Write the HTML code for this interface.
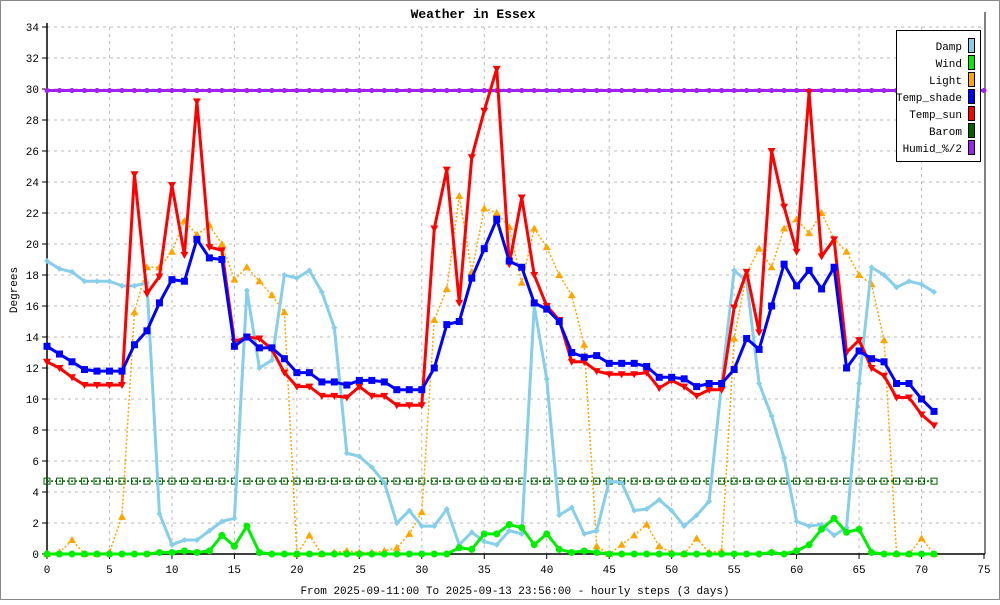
<!DOCTYPE html>
<html><head><meta charset="utf-8"><style>
body{margin:0;background:#fff}
svg text{font-family:"Liberation Mono",monospace;font-size:11px}
</style></head><body>
<svg id="chart" width="1000" height="600" xmlns="http://www.w3.org/2000/svg">
<rect x="0.5" y="0.5" width="999" height="599" fill="#fff" stroke="#888"/>
<text x="473" y="18" text-anchor="middle" style="font-size:13px;font-weight:bold">Weather in Essex</text>
<g id="grid"></g><g id="axes"></g><g id="series"></g>
<text x="17" y="290" text-anchor="middle" transform="rotate(-90 17 290)">Degrees</text>
<text x="515" y="594" text-anchor="middle">From 2025-09-11:00 To 2025-09-13 23:56:00 - hourly steps (3 days)</text>
<g id="legend"></g>
</svg>
<script>
const xTicks=[0,5,10,15,20,25,30,35,40,45,50,55,60,65,70,75];
const yTicks=[0,2,4,6,8,10,12,14,16,18,20,22,24,26,28,30,32,34];
const damp=[18.9,18.4,18.2,17.6,17.6,17.6,17.3,17.3,17.5,2.6,0.6,0.9,0.9,1.5,2.1,2.3,17.0,12.0,12.5,18.0,17.8,18.3,16.9,14.6,6.5,6.3,5.6,4.6,2.0,2.8,1.8,1.8,2.9,0.6,1.4,0.8,0.6,1.5,1.3,16.0,11.3,2.5,3.0,1.3,1.5,4.7,4.6,2.8,2.9,3.5,2.8,1.8,2.5,3.4,11.0,18.3,17.6,11.0,8.9,6.2,2.1,1.8,1.9,1.2,1.7,11.0,18.5,18.0,17.2,17.6,17.4,16.9];
const wind=[0,0,0,0,0,0,0,0,0,0.1,0.1,0.2,0.1,0.2,1.2,0.5,1.8,0.1,0,0,0,0,0,0,0,0,0,0,0,0,0,0,0,0.4,0.3,1.3,1.3,1.9,1.7,0.6,1.3,0.3,0.1,0.2,0.1,0,0,0,0,0,0,0,0,0,0,0,0,0,0.1,0,0.2,0.6,1.6,2.3,1.4,1.6,0.1,0,0,0,0,0];
const light=[0,0.1,0.9,0,0,0.1,2.4,15.6,18.5,18.5,19.5,21.5,20.6,21.2,20.0,17.7,18.5,17.6,16.7,15.6,0,1.2,0,0.1,0.2,0.1,0.1,0.2,0.4,1.3,2.7,15.1,17.1,23.1,18.2,22.3,22.0,21.1,17.5,21.0,19.8,18.0,16.7,13.5,0.5,0,0.6,1.2,1.9,0.5,0.1,0,1.0,0.1,0.2,13.9,18.1,19.7,18.5,21.0,21.6,20.7,22.0,20.3,19.5,18.0,17.4,13.8,0,0,1.0,0];
const tempShade=[13.4,12.9,12.4,11.9,11.8,11.8,11.8,13.5,14.4,16.2,17.7,17.6,20.3,19.1,19.0,13.4,14.0,13.3,13.3,12.6,11.7,11.7,11.1,11.1,10.9,11.2,11.2,11.1,10.6,10.6,10.6,12.0,14.8,15.0,17.8,19.7,21.6,18.9,18.5,16.2,15.8,15.0,13.0,12.7,12.8,12.3,12.3,12.3,12.1,11.4,11.4,11.3,10.8,11.0,11.0,11.9,13.9,13.2,16.0,18.7,17.3,18.3,17.1,18.5,12.0,13.1,12.6,12.4,11.0,11.0,10.0,9.2];
const tempSun=[12.4,12.0,11.4,10.9,10.9,10.9,10.9,24.5,16.8,17.9,23.8,19.3,29.2,19.8,19.6,13.7,14.0,13.9,13.2,11.7,10.8,10.8,10.2,10.2,10.1,10.8,10.2,10.2,9.6,9.6,9.6,21.0,24.8,16.2,25.6,28.6,31.3,18.7,23.0,18.0,16.0,15.1,12.4,12.4,11.8,11.6,11.6,11.6,11.7,10.7,11.2,10.8,10.2,10.6,10.6,15.9,18.2,14.3,26.0,22.4,19.5,29.8,19.2,20.3,13.0,13.8,12.0,11.5,10.1,10.1,9.0,8.3];
const barom=Array(72).fill(4.7);
const humid=Array(76).fill(29.9);
const NS="http://www.w3.org/2000/svg";
const X0=47,X1=984,Y0=554,Y1=27;
const sx=v=>X0+(v-0)/75*(X1-X0);
const sy=v=>Y0-(v/34)*(Y0-Y1);
function mk(t,a,p){const e=document.createElementNS(NS,t);for(const k in a)e.setAttribute(k,a[k]);p.appendChild(e);return e;}
const grid=document.getElementById('grid'),axes=document.getElementById('axes'),ser=document.getElementById('series');
xTicks.forEach(t=>{
 if(t>0&&t<75){const l=mk('line',{x1:sx(t),x2:sx(t),y1:Y1,y2:Y0,stroke:'#bbb','stroke-dasharray':'3,4'},grid);
 
 }
 mk('line',{x1:sx(t),x2:sx(t),y1:Y0,y2:Y0+5,stroke:'#000'},axes);
 const tx=mk('text',{x:sx(t),y:Y0+19,'text-anchor':'middle'},axes);tx.textContent=t;
 
 
});
yTicks.forEach(t=>{
 if(t>0){const l=mk('line',{x1:X0,x2:X1,y1:sy(t),y2:sy(t),stroke:'#bbb','stroke-dasharray':'3,4'},grid);
 
 }
 mk('line',{x1:X0-5,x2:X0,y1:sy(t),y2:sy(t),stroke:'#000'},axes);
 const tx=mk('text',{x:X0-8,y:sy(t)+4,'text-anchor':'end'},axes);tx.textContent=t;
 
 
});
mk('line',{x1:X0,x2:X0,y1:Y1-4,y2:Y0,stroke:'#000','stroke-width':1.5},axes);
mk('line',{x1:X0,x2:X1+1,y1:Y0,y2:Y0,stroke:'#000','stroke-width':1.5},axes);
mk('line',{x1:X1+1,x2:X1+1,y1:12,y2:Y0,stroke:'#000'},axes);
function marker(kind,x,y,c,g){
 if(kind==='sq')mk('rect',{x:x-3.5,y:y-3.5,width:7,height:7,fill:c},g);
 else if(kind==='up')mk('polygon',{points:`${x},${y-4} ${x-4},${y+3} ${x+4},${y+3}`,fill:c},g);
 else if(kind==='down')mk('polygon',{points:`${x},${y+4} ${x-4},${y-3} ${x+4},${y-3}`,fill:c},g);
 else if(kind==='circ')mk('circle',{cx:x,cy:y,r:3.5,fill:c},g);
 else if(kind==='osq')mk('rect',{x:x-3,y:y-3,width:6,height:6,fill:'none',stroke:c,'stroke-width':1},g);
 else if(kind==='dot')mk('circle',{cx:x,cy:y,r:2.5,fill:c},g);
 else if(kind==='dia')mk('polygon',{points:`${x},${y-3} ${x-3},${y} ${x},${y+3} ${x+3},${y}`,fill:c},g);
}
function series(name,data,c,w,dash,kind){
 const g=mk('g',{},ser);
 
 
 const pts=data.map((v,i)=>sx(i)+','+sy(v)).join(' ');
 const a={points:pts,fill:'none',stroke:c,'stroke-width':w,'stroke-linejoin':'round'};
 if(dash)a['stroke-dasharray']=dash;
 mk('polyline',a,g);
 data.forEach((v,i)=>marker(kind,sx(i),sy(v),c,g));
}
series('humid',humid,'#a020f0',3,null,'dot');
series('barom',barom,'#006400',1.5,'2,2','osq');
series('light',light,'#ffa500',1.5,'2,2','up');
series('damp',damp,'#87ceeb',3,null,'dia');
series('wind',wind,'#00ee00',3,null,'circ');
series('temp-sun',tempSun,'#ff0000',3,null,'down');
series('temp-shade',tempShade,'#0000ff',3,null,'sq');
const leg=document.getElementById('legend');
mk('rect',{x:896.5,y:30.5,width:84,height:131,fill:'#fff',stroke:'#000'},leg);
const names=['Damp','Wind','Light','Temp_shade','Temp_sun','Barom','Humid_%/2'];
const cols=['#87ceeb','#00ee00','#ffa500','#0000ff','#ff0000','#006400','#a020f0'];
names.forEach((n,i)=>{
 const y=46+i*17;
 const t=mk('text',{x:962,y:y+4,'text-anchor':'end'},leg);t.textContent=n;
 
 
 const r=mk('rect',{x:968.5,y:y-7.5,width:6,height:14,fill:cols[i],stroke:'#000'},leg);
 
 
});
</script>
</body></html>
